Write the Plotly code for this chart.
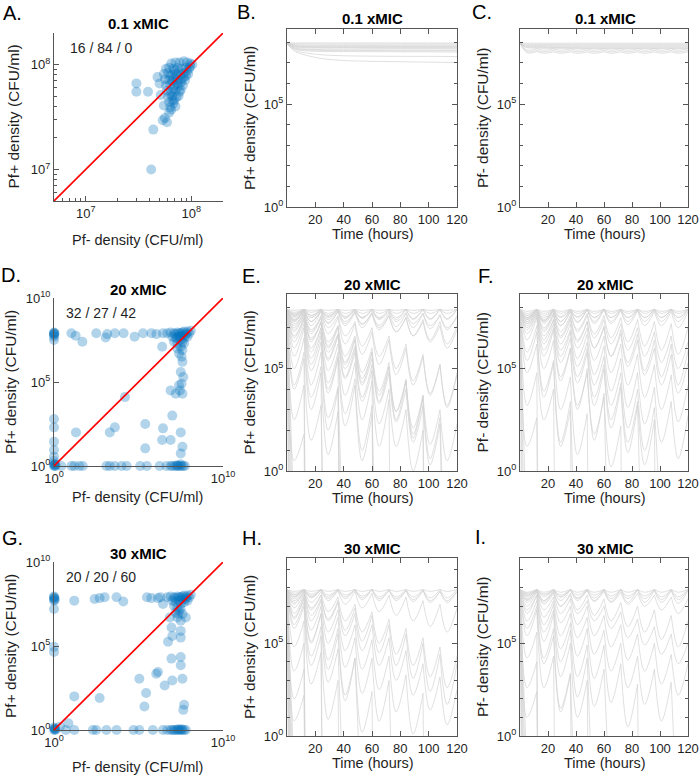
import plotly.graph_objects as go

FIG_W, FIG_H = 700, 778
FONT = "Liberation Sans, Arial, Helvetica, sans-serif"

# ------------------------------------------------------------------ data
DOSE_TIMES = [0, 12, 24, 36, 48, 60, 72, 84, 96, 108, 120]
TROUGH_OFFSET = 5
TIME_TICKS = [20, 40, 60, 80, 100, 120]

TITLES = {"A": "0.1 xMIC", "B": "0.1 xMIC", "C": "0.1 xMIC",
          "D": "20 xMIC", "E": "20 xMIC", "F": "20 xMIC",
          "G": "30 xMIC", "H": "30 xMIC", "I": "30 xMIC"}
COUNTS = {"A": "16 / 84 / 0", "D": "32 / 27 / 42", "G": "20 / 20 / 60"}

# scatter panels: (log10 Pf- density, log10 Pf+ density)
A_POINTS = [
    (7.48, 7.82), (7.48, 7.74), (7.59, 7.74), (7.62, 7.00), (7.64, 7.38), (7.75, 7.49),
    (7.68, 7.88), (7.70, 7.82), (7.73, 7.47), (7.77, 7.45), (7.81, 7.57), (7.82, 7.66),
    (7.71, 7.71), (7.74, 7.61), (7.79, 7.54),
    (7.81, 8.01), (7.85, 8.02), (7.89, 8.02), (7.93, 8.03), (7.96, 8.02), (7.99, 8.01), (8.01, 8.00),
    (7.76, 7.96), (7.79, 7.97), (7.83, 7.96), (7.87, 7.97), (7.91, 7.96), (7.95, 7.97), (7.98, 7.96),
    (7.74, 7.91), (7.78, 7.92), (7.82, 7.90), (7.86, 7.91), (7.90, 7.90), (7.93, 7.92), (7.97, 7.91),
    (7.75, 7.86), (7.79, 7.85), (7.83, 7.86), (7.87, 7.85), (7.91, 7.86), (7.94, 7.85),
    (7.76, 7.80), (7.80, 7.81), (7.84, 7.80), (7.88, 7.79), (7.92, 7.80),
    (7.77, 7.75), (7.81, 7.74), (7.85, 7.75), (7.89, 7.74),
    (7.78, 7.69), (7.82, 7.70), (7.86, 7.69), (7.79, 7.64), (7.83, 7.63), (7.80, 7.59), (7.85, 7.60),
    (7.84, 7.66), (7.88, 7.70), (7.90, 7.76), (7.95, 7.89), (7.99, 7.98), (7.87, 7.82), (7.83, 7.77),
    (7.80, 7.72), (7.86, 7.88), (7.90, 7.83), (7.82, 7.84), (7.93, 7.88), (7.96, 7.94), (7.88, 7.93),
    (7.84, 7.94), (7.80, 7.89),
]

D_POINTS = [
    (0, 0), (0.05, 0.02), (0.02, 0.08), (0.1, 0), (0, 0.12), (0.08, 0.1),
    (0, 7.9), (0, 7.95), (0, 7.8), (0, 7.85), (0, 7.7), (0, 7.5), (0.03, 7.9),
    (0, 2.8), (0, 2.3), (0, 1.45), (0, 0.95), (0, 0.55), (0, 0.3),
    (1.03, 7.9), (1.28, 7.75), (1.68, 7.4), (2.5, 7.9), (3.06, 7.65), (3.15, 7.85), (3.6, 7.9),
    (4.12, 7.9), (4.77, 7.7), (5.27, 7.9), (5.76, 7.9), (6.06, 7.85), (6.45, 7.9), (6.4, 7.1),
    (6.7, 7.9), (6.9, 7.95), (7.1, 7.9), (7.3, 7.95), (7.5, 7.9), (7.7, 8.0), (7.9, 8.0), (8.1, 8.05),
    (7.0, 7.7), (7.2, 7.6), (7.4, 7.7), (7.6, 7.75), (7.8, 7.8), (7.1, 7.4), (7.3, 7.3), (7.5, 7.5),
    (7.7, 7.6), (7.3, 7.0), (7.5, 7.1), (7.4, 6.7), (7.6, 6.9), (7.55, 6.5),
    (7.2, 7.85), (7.4, 7.9), (7.6, 7.95), (7.8, 7.9), (7.9, 7.7), (8.0, 7.9), (7.7, 7.3),
    (7.5, 7.7), (7.3, 7.6), (7.6, 7.4),
    (7.6, 6.2), (7.5, 5.6), (7.65, 5.3), (7.55, 4.9), (7.45, 4.5), (7.6, 4.3),
    (6.9, 4.5), (7.2, 4.3), (7.4, 4.8), (7.0, 3.0), (6.45, 2.24), (6.4, 1.55), (6.9, 1.55),
    (7.5, 2.0), (7.6, 1.15), (7.5, 0.75), (3.6, 2.3), (3.3, 2.0), (5.4, 2.5), (5.4, 1.05),
    (1.3, 2.0), (4.2, 4.1),
    (0.43, 0), (1.03, 0), (1.2, 0), (1.5, 0), (1.7, 0), (3.1, 0), (3.3, 0), (3.6, 0), (4.0, 0),
    (4.3, 0), (5.1, 0), (5.5, 0), (6.25, 0), (6.65, 0), (6.9, 0), (7.0, 0), (7.15, 0), (7.25, 0),
    (7.35, 0), (7.45, 0), (7.55, 0), (7.65, 0), (7.75, 0), (7.3, 0.05), (7.5, 0.1),
]

G_POINTS = [
    (0, 0), (0.05, 0.03), (0.03, 0.1), (0.1, 0.02), (0, 0.15), (0.06, 0.06),
    (0, 7.9), (0, 7.8), (0, 7.7), (0.03, 7.85), (0, 7.95), (0, 7.2), (0, 4.95), (0, 4.65), (0.05, 7.75),
    (1.2, 7.7), (2.4, 7.8), (2.7, 7.85), (3.0, 7.9), (3.7, 7.9), (4.1, 7.65), (5.76, 7.85),
    (6.15, 7.85), (6.45, 7.5), (6.3, 7.9), (5.5, 7.9),
    (6.7, 7.9), (6.9, 7.95), (7.1, 7.9), (7.3, 7.95), (7.5, 7.9), (7.7, 8.0), (7.9, 8.0), (8.1, 8.05),
    (7.0, 7.7), (7.2, 7.6), (7.4, 7.7), (7.6, 7.75), (7.8, 7.8), (7.1, 7.4), (7.3, 7.3), (7.5, 7.5),
    (7.7, 7.6), (7.2, 7.0), (7.4, 7.1), (7.3, 6.7), (7.6, 6.9), (7.5, 6.5), (7.2, 7.85), (7.4, 7.9),
    (7.6, 7.95), (7.8, 7.9), (7.9, 7.7), (8.0, 7.9), (7.5, 7.2), (7.35, 6.9),
    (6.85, 6.7), (6.95, 6.1), (7.5, 5.9), (7.0, 5.6), (7.5, 5.5), (6.75, 5.25), (7.8, 6.7),
    (6.95, 4.25), (7.5, 4.35), (7.5, 3.85), (6.15, 3.45), (6.05, 3.35), (6.55, 2.65), (7.0, 2.95),
    (7.6, 3.05), (5.05, 3.05), (5.45, 2.2), (5.35, 1.4), (2.7, 1.9), (1.2, 2.0), (7.65, 1.2),
    (7.7, 1.5), (0.85, 0.4), (0.35, 0.2),
    (0.7, 0), (1.2, 0), (2.3, 0), (2.5, 0), (3.1, 0), (3.7, 0), (4.7, 0), (5.05, 0), (5.85, 0),
    (6.45, 0), (6.7, 0), (6.9, 0), (7.0, 0), (7.1, 0), (7.2, 0), (7.3, 0), (7.4, 0), (7.5, 0),
    (7.6, 0), (7.7, 0), (7.8, 0), (7.35, 0.05), (7.55, 0.05),
]

# B: smooth trajectories (log10 density at knot times)
B_KNOT_T = [0, 6, 12, 24, 40, 60, 80, 100, 120]
B_LINES = [
    [7.97, 7.97, 7.97, 7.97, 7.97, 7.97, 7.97, 7.97, 7.97],
    [7.95, 7.93, 7.93, 7.92, 7.92, 7.92, 7.92, 7.92, 7.92],
    [7.95, 7.88, 7.87, 7.86, 7.86, 7.86, 7.86, 7.86, 7.86],
    [7.95, 7.85, 7.83, 7.82, 7.82, 7.82, 7.81, 7.81, 7.81],
    [7.95, 7.82, 7.80, 7.79, 7.79, 7.79, 7.78, 7.78, 7.78],
    [7.95, 7.79, 7.76, 7.75, 7.75, 7.75, 7.74, 7.74, 7.74],
    [7.94, 7.76, 7.73, 7.72, 7.72, 7.71, 7.71, 7.71, 7.71],
    [7.94, 7.72, 7.67, 7.65, 7.64, 7.64, 7.63, 7.63, 7.63],
    [7.94, 7.70, 7.64, 7.61, 7.60, 7.60, 7.59, 7.59, 7.59],
    [7.93, 7.66, 7.60, 7.56, 7.55, 7.55, 7.54, 7.54, 7.53],
    [7.93, 7.60, 7.50, 7.40, 7.35, 7.33, 7.32, 7.32, 7.31],
    [7.92, 7.55, 7.40, 7.22, 7.12, 7.08, 7.06, 7.04, 7.02],
]

# C: flat band + periodic (peak, trough, peak, ...) lines
C_KNOT_T = [0, 4, 12, 30, 60, 90, 120]
C_FLAT_LINES = [
    [7.96, 7.96, 7.96, 7.96, 7.96, 7.96, 7.96],
    [7.95, 7.91, 7.90, 7.90, 7.90, 7.90, 7.90],
    [7.95, 7.86, 7.85, 7.84, 7.84, 7.84, 7.84],
    [7.95, 7.82, 7.80, 7.79, 7.79, 7.79, 7.79],
    [7.95, 7.79, 7.76, 7.75, 7.74, 7.74, 7.74],
    [7.95, 7.76, 7.72, 7.71, 7.70, 7.70, 7.70],
]
C_WAVY_LINES = [
    [7.95, 7.63, 7.69, 7.62, 7.69, 7.62, 7.69, 7.62, 7.69, 7.62, 7.69, 7.62, 7.69, 7.62, 7.69, 7.62, 7.69, 7.62, 7.69, 7.62, 7.69],
    [7.95, 7.56, 7.61, 7.54, 7.61, 7.54, 7.61, 7.54, 7.61, 7.54, 7.61, 7.54, 7.61, 7.54, 7.61, 7.54, 7.61, 7.54, 7.61, 7.54, 7.61],
    [7.94, 7.50, 7.55, 7.47, 7.54, 7.47, 7.54, 7.47, 7.54, 7.47, 7.54, 7.47, 7.54, 7.47, 7.54, 7.47, 7.54, 7.47, 7.54, 7.47, 7.54],
]

# E, F, H, I: log10 density at dose peaks and troughs: p0, t0, p1, t1, ...
# (a list ending on a trough means the population went extinct)
E_LINES = [
    [7.9, -40], [7.9, -25], [7.9, -15], [7.9, -9], [7.9, -5], [7.9, -2.5],
    [7.9, 0.5, 1.8, -40],
    [7.9, 2.5, 4.2, -40],
    [7.9, 4.2, 5.8, -40],
    [7.9, 5.6, 7.0, 3.6, 5.1, -40],
    [7.9, 4.0, 5.5, 1.5, 3.2, -12],
    [7.9, 6.3, 7.4, 4.9, 6.3, 2.6, 4.1, -40],
    [7.9, 5.0, 6.5, 3.0, 4.8, 0.8, 2.9, -12],
    [7.9, 6.6, 7.5, 5.5, 6.8, 4.0, 5.6, -40],
    [7.9, 6.0, 7.2, 4.2, 5.8, 2.0, 4.0, -6],
    [7.9, 6.8, 7.7, 5.8, 7.0, 4.3, 5.8, 2.8, 4.5, 1.0, 3.2, -40],
    [7.9, 6.5, 7.5, 5.2, 6.6, 3.8, 5.5, 2.2, 4.2, 0.5, 2.8, -10],
    [7.9, 7.1, 7.8, 6.4, 7.3, 5.5, 6.7, 4.6, 6.0, 3.6, 5.2, -40],
    [7.9, 6.9, 7.6, 6.0, 7.0, 4.9, 6.2, 3.7, 5.3, 2.5, 4.4, 1.2, 3.5, -40],
    [7.9, 7.0, 7.8, 6.3, 7.3, 5.4, 6.6, 4.5, 5.8, 3.4, 4.9, 2.3, 4.0, 1.2, 3.0, 0.0, 2.0, -40],
    [7.9, 7.3, 7.85, 6.7, 7.5, 6.0, 7.0, 5.2, 6.4, 4.3, 5.8, 3.4, 5.1, 2.5, 4.4, 1.6, 3.7, -40],
    [7.9, 7.2, 7.7, 6.5, 7.2, 5.8, 6.7, 5.0, 6.1, 4.2, 5.5, 3.3, 4.8, 2.4, 4.0, 1.4, 3.2, 0.3, 2.3, -15],
    [7.9, 7.4, 7.8, 6.9, 7.5, 6.3, 7.1, 5.6, 6.6, 4.8, 6.0, 3.9, 5.3, 2.9, 4.5, 1.8, 3.6, 0.6, 2.6, -8],
    [7.9, 7.3, 7.9, 6.8, 7.6, 6.1, 7.1, 5.3, 6.5, 4.5, 5.8, 3.7, 5.1, 2.9, 4.4, 2.1, 3.7, 1.3, 3.0, 0.5, 2.3],
    [7.9, 7.6, 7.9, 7.3, 7.8, 7.0, 7.6, 6.6, 7.3, 6.1, 7.0, 5.6, 6.6, 5.0, 6.2, 4.4, 5.7, 3.8, 5.2, 3.1, 4.7],
    [7.9, 7.5, 7.9, 7.1, 7.8, 6.7, 7.5, 6.2, 7.2, 5.7, 6.8, 5.2, 6.4, 4.7, 6.0, 4.2, 5.6, 3.7, 5.2, 3.2, 4.8],
    [7.9, 7.6, 7.9, 7.5, 7.9, 7.4, 7.85, 7.3, 7.8, 7.2, 7.7, 7.0, 7.6, 6.8, 7.5, 6.6, 7.3, 6.3, 7.1, 6.0, 6.9],
    [7.9, 7.7, 7.9, 7.6, 7.9, 7.6, 7.9, 7.5, 7.9, 7.5, 7.85, 7.4, 7.8, 7.3, 7.75, 7.2, 7.7, 7.1, 7.6, 7.0, 7.5],
    [7.9, 7.75, 7.9, 7.75, 7.9, 7.7, 7.9, 7.7, 7.9, 7.7, 7.9, 7.7, 7.9, 7.7, 7.9, 7.7, 7.9, 7.7, 7.9, 7.7, 7.9],
    [7.9, 7.55, 7.9, 7.5, 7.9, 7.5, 7.9, 7.45, 7.9, 7.45, 7.9, 7.45, 7.9, 7.4, 7.9, 7.4, 7.9, 7.4, 7.9, 7.4, 7.9],
    [7.9, 7.85, 7.9, 7.85, 7.9, 7.85, 7.9, 7.85, 7.9, 7.85, 7.9, 7.85, 7.9, 7.85, 7.9, 7.85, 7.9, 7.85, 7.9, 7.85, 7.9],
    [7.9, 7.4, 7.9, 7.3, 7.85, 7.2, 7.8, 7.1, 7.75, 7.0, 7.7, 6.9, 7.6, 6.8, 7.5, 6.6, 7.4, 6.4, 7.3, 6.2, 7.1],
    [7.9, 7.65, 7.9, 7.6, 7.9, 7.55, 7.9, 7.55, 7.9, 7.5, 7.9, 7.5, 7.9, 7.5, 7.9, 7.45, 7.9, 7.45, 7.9, 7.45, 7.9],
    [7.9, 7.35, 7.85, 7.3, 7.85, 7.25, 7.8, 7.2, 7.8, 7.15, 7.75, 7.1, 7.75, 7.05, 7.7, 7.0, 7.7, 6.95, 7.65, 6.9, 7.6],
]

F_LINES = [
    [7.9, -40], [7.9, -20], [7.9, -10], [7.9, -4],
    [7.9, 1.2, 2.6, -40],
    [7.9, 3.2, 4.8, -40],
    [7.9, 4.8, 6.2, 2.5, 4.0, -40],
    [7.9, 5.8, 7.1, 3.9, 5.4, 1.2, 3.0, -40],
    [7.9, 6.4, 7.5, 5.0, 6.4, 3.0, 4.6, 0.8, 2.8, -40],
    [7.9, 6.9, 7.7, 5.9, 7.0, 4.6, 6.0, 3.2, 4.8, 1.8, 3.6, 0.2, 2.2, -40],
    [7.9, 5.4, 6.8, 3.6, 5.3, 1.4, 3.4, -8],
    [7.9, 7.1, 7.8, 6.4, 7.4, 5.6, 6.8, 4.6, 6.0, 3.6, 5.2, 2.5, 4.3, 1.4, 3.4, 0.3, 2.5, -40],
    [7.9, 7.3, 7.9, 6.8, 7.6, 6.2, 7.2, 5.5, 6.7, 4.7, 6.1, 3.9, 5.5, 3.1, 4.8, 2.3, 4.1, 1.4, 3.4, 0.6, 2.7],
    [7.9, 7.4, 7.9, 7.0, 7.7, 6.5, 7.4, 6.0, 7.0, 5.4, 6.6, 4.8, 6.2, 4.2, 5.7, 3.6, 5.2, 3.0, 4.7, 2.4, 4.2],
    [7.9, 7.5, 7.9, 7.2, 7.8, 6.8, 7.6, 6.4, 7.3, 6.0, 7.0, 5.6, 6.7, 5.1, 6.4, 4.7, 6.0, 4.2, 5.7, 3.8, 5.3],
    [7.9, 7.6, 7.9, 7.4, 7.9, 7.1, 7.8, 6.8, 7.6, 6.5, 7.4, 6.2, 7.2, 5.9, 7.0, 5.6, 6.8, 5.3, 6.6, 5.0, 6.3],
    [7.9, 7.0, 7.7, 6.2, 7.2, 5.3, 6.5, 4.3, 5.8, 3.2, 5.0, 2.1, 4.1, 0.9, 3.2, -10],
    [7.9, 6.7, 7.6, 5.6, 6.9, 4.4, 6.0, 3.0, 5.0, 1.5, 3.8, -10],
    [7.9, 7.2, 7.8, 6.6, 7.4, 5.9, 6.9, 5.1, 6.3, 4.2, 5.6, 3.2, 4.8, 2.1, 4.0, 1.0, 3.1, -3],
    [7.9, 7.45, 7.9, 7.3, 7.85, 7.1, 7.8, 6.9, 7.7, 6.7, 7.6, 6.5, 7.5, 6.3, 7.4, 6.1, 7.3, 5.9, 7.2, 5.7, 7.0],
    [7.9, 7.3, 7.9, 7.3, 7.9, 7.3, 7.9, 7.3, 7.9, 7.3, 7.9, 7.3, 7.9, 7.3, 7.9, 7.3, 7.9, 7.3, 7.9, 7.3, 7.9],
    [7.9, 7.5, 7.9, 7.5, 7.9, 7.5, 7.9, 7.5, 7.9, 7.5, 7.9, 7.5, 7.9, 7.5, 7.9, 7.5, 7.9, 7.5, 7.9, 7.5, 7.9],
    [7.9, 7.7, 7.9, 7.7, 7.9, 7.7, 7.9, 7.7, 7.9, 7.7, 7.9, 7.7, 7.9, 7.7, 7.9, 7.7, 7.9, 7.7, 7.9, 7.7, 7.9],
    [7.9, 7.4, 7.9, 7.35, 7.9, 7.3, 7.9, 7.25, 7.9, 7.2, 7.9, 7.2, 7.85, 7.15, 7.85, 7.1, 7.8, 7.1, 7.8, 7.0, 7.8],
    [7.9, 7.6, 7.9, 7.6, 7.9, 7.55, 7.9, 7.55, 7.9, 7.5, 7.9, 7.5, 7.9, 7.5, 7.9, 7.5, 7.9, 7.5, 7.9, 7.5, 7.9],
    [7.9, 7.2, 7.8, 6.9, 7.7, 6.6, 7.5, 6.3, 7.3, 6.0, 7.1, 5.6, 6.9, 5.3, 6.7, 4.9, 6.4, 4.6, 6.2, 4.2, 5.9],
    [7.9, 7.8, 7.9, 7.8, 7.9, 7.8, 7.9, 7.8, 7.9, 7.8, 7.9, 7.8, 7.9, 7.8, 7.9, 7.8, 7.9, 7.8, 7.9, 7.8, 7.9],
]

H_LINES = [
    [7.9, -40], [7.9, -30], [7.9, -20], [7.9, -14], [7.9, -10], [7.9, -7], [7.9, -4], [7.9, -2],
    [7.9, 0.8, 2.2, -40],
    [7.9, 2.0, 3.6, -40],
    [7.9, 3.5, 5.0, -40],
    [7.9, 4.8, 6.2, -40],
    [7.9, 5.8, 7.0, 2.8, 4.5, -40],
    [7.9, 6.3, 7.4, 4.3, 5.9, -40],
    [7.9, 6.0, 7.2, 3.8, 5.4, 0.9, 3.0, -40],
    [7.9, 6.6, 7.6, 5.0, 6.6, 2.9, 4.7, -6],
    [7.9, 6.9, 7.7, 5.7, 7.0, 4.1, 5.8, 2.2, 4.2, 0.2, 2.4, -40],
    [7.9, 7.1, 7.8, 6.2, 7.3, 5.0, 6.4, 3.7, 5.3, 2.3, 4.2, 0.8, 3.0, -10],
    [7.9, 7.2, 7.8, 6.5, 7.4, 5.6, 6.8, 4.6, 6.0, 3.6, 5.2, 2.5, 4.3, 1.3, 3.3, 0.1, 2.3, -40],
    [7.9, 7.4, 7.9, 6.9, 7.6, 6.2, 7.2, 5.4, 6.6, 4.6, 6.0, 3.8, 5.3, 3.0, 4.6, 2.2, 3.9, 1.4, 3.2, 0.6, 2.5],
    [7.9, 7.5, 7.9, 7.2, 7.8, 6.7, 7.5, 6.2, 7.1, 5.6, 6.7, 5.0, 6.3, 4.4, 5.8, 3.8, 5.3, 3.2, 4.8, 2.6, 4.3],
    [7.9, 6.4, 7.5, 5.1, 6.6, 3.6, 5.5, 1.9, 4.2, -5],
    [7.9, 7.6, 7.9, 7.5, 7.9, 7.3, 7.85, 7.1, 7.8, 6.9, 7.7, 6.7, 7.6, 6.5, 7.5, 6.2, 7.3, 5.9, 7.1, 5.6, 6.9],
    [7.9, 7.7, 7.9, 7.65, 7.9, 7.6, 7.9, 7.6, 7.9, 7.55, 7.9, 7.5, 7.9, 7.5, 7.9, 7.5, 7.9, 7.45, 7.9, 7.45, 7.9],
    [7.9, 7.5, 7.9, 7.45, 7.9, 7.4, 7.9, 7.4, 7.9, 7.35, 7.9, 7.3, 7.9, 7.3, 7.85, 7.25, 7.85, 7.2, 7.8, 7.2, 7.8],
    [7.9, 7.8, 7.9, 7.8, 7.9, 7.8, 7.9, 7.8, 7.9, 7.8, 7.9, 7.8, 7.9, 7.8, 7.9, 7.8, 7.9, 7.8, 7.9, 7.8, 7.9],
    [7.9, 7.3, 7.8, 6.8, 7.6, 6.3, 7.3, 5.7, 6.9, 5.1, 6.5, 4.5, 6.0, 3.8, 5.5, 3.1, 5.0, 2.4, 4.4, 1.7, 3.9],
    [7.9, 7.6, 7.9, 7.55, 7.9, 7.5, 7.9, 7.5, 7.9, 7.45, 7.9, 7.4, 7.85, 7.4, 7.85, 7.35, 7.85, 7.3, 7.8, 7.3, 7.8],
]

I_LINES = [
    [7.9, -40], [7.9, -25], [7.9, -15], [7.9, -9], [7.9, -5], [7.9, -2],
    [7.9, 1.0, 2.4, -40],
    [7.9, 2.6, 4.0, -40],
    [7.9, 4.2, 5.6, -40],
    [7.9, 5.4, 6.8, 2.6, 4.3, -40],
    [7.9, 6.2, 7.3, 4.2, 5.8, 1.5, 3.4, -40],
    [7.9, 6.6, 7.6, 5.1, 6.6, 3.2, 5.0, 1.0, 3.0, -40],
    [7.9, 7.0, 7.8, 6.0, 7.1, 4.7, 6.1, 3.2, 4.9, 1.6, 3.6, -5],
    [7.9, 7.2, 7.8, 6.4, 7.3, 5.4, 6.6, 4.3, 5.8, 3.1, 4.9, 1.8, 3.9, 0.5, 2.8, -40],
    [7.9, 7.3, 7.9, 6.8, 7.5, 6.1, 7.0, 5.3, 6.4, 4.4, 5.7, 3.5, 5.0, 2.6, 4.3, 1.7, 3.6, 0.8, 2.9, -6],
    [7.9, 7.5, 7.9, 7.1, 7.7, 6.6, 7.4, 6.0, 7.0, 5.4, 6.5, 4.8, 6.0, 4.1, 5.5, 3.5, 5.0, 2.8, 4.4, 2.2, 3.9],
    [7.9, 7.6, 7.9, 7.3, 7.8, 7.0, 7.6, 6.6, 7.3, 6.2, 7.0, 5.8, 6.7, 5.3, 6.3, 4.9, 5.9, 4.4, 5.5, 3.9, 5.0],
    [7.9, 5.8, 7.0, 3.9, 5.4, 1.3, 3.3, -8],
    [7.9, 6.8, 7.6, 5.6, 6.8, 4.0, 5.7, 2.1, 4.2, -6],
    [7.9, 7.7, 7.9, 7.6, 7.9, 7.5, 7.9, 7.4, 7.85, 7.3, 7.8, 7.2, 7.75, 7.1, 7.7, 7.0, 7.6, 6.8, 7.5, 6.6, 7.4],
    [7.9, 7.75, 7.9, 7.75, 7.9, 7.75, 7.9, 7.75, 7.9, 7.75, 7.9, 7.75, 7.9, 7.75, 7.9, 7.75, 7.9, 7.75, 7.9, 7.75, 7.9],
    [7.9, 7.55, 7.9, 7.5, 7.9, 7.5, 7.9, 7.45, 7.9, 7.45, 7.9, 7.4, 7.9, 7.4, 7.9, 7.4, 7.9, 7.35, 7.9, 7.35, 7.9],
    [7.9, 7.4, 7.85, 7.2, 7.8, 7.0, 7.7, 6.8, 7.6, 6.5, 7.4, 6.2, 7.2, 5.9, 7.0, 5.6, 6.8, 5.2, 6.5, 4.8, 6.2],
    [7.9, 7.35, 7.9, 7.3, 7.9, 7.3, 7.9, 7.3, 7.9, 7.25, 7.9, 7.25, 7.9, 7.2, 7.9, 7.2, 7.85, 7.2, 7.85, 7.15, 7.85],
    [7.9, 7.65, 7.9, 7.65, 7.9, 7.6, 7.9, 7.6, 7.9, 7.6, 7.9, 7.55, 7.9, 7.55, 7.9, 7.55, 7.9, 7.5, 7.9, 7.5, 7.9],
]

# ------------------------------------------------------------------ styling
SCATTER_BLUE = "#0072BD"
LINE_GREY = "#d2d2d2"
AXIS_COL = "#555555"
TEXT_COL = "#1f1f1f"

# panel boxes in pixels: x0, x1, y0(top), y1(bottom)
BOXES = {
    "A": (54, 223, 33, 201), "B": (287, 457, 29, 207), "C": (520, 688, 29, 207),
    "D": (54, 223, 298, 466), "E": (287, 457, 294, 471), "F": (520, 688, 294, 471),
    "G": (54, 223, 562, 730), "H": (287, 457, 558, 736), "I": (520, 688, 558, 736),
}
ORDER = ["A", "B", "C", "D", "E", "F", "G", "H", "I"]
XTITLE_GAP = {"A": 39, "D": 31, "G": 37}


def xd(p):
    return p / FIG_W


def yd(p):
    return 1 - p / FIG_H


def refs(i):
    s = "" if i == 1 else str(i)
    return "xaxis" + s, "yaxis" + s, "x" + s, "y" + s


def sup(v):
    return "10<sup>%d</sup>" % v


def scallop_xy(seq):
    xs, ys = [], []
    n_peaks = (len(seq) + 1) // 2
    for k in range(n_peaks):
        i = 2 * k
        if i + 1 >= len(seq):
            break
        t0 = DOSE_TIMES[k]
        if i + 2 < len(seq):
            xs += [t0, t0 + TROUGH_OFFSET, DOSE_TIMES[k + 1], None]
            ys += [10 ** seq[i], 10 ** seq[i + 1], 10 ** seq[i + 2], None]
        else:
            xs += [t0, t0 + TROUGH_OFFSET, None]
            ys += [10 ** seq[i], 10 ** seq[i + 1], None]
    return xs, ys


def knot_xy(times, vals):
    return list(times) + [None], [10 ** v for v in vals] + [None]


common = dict(showgrid=False, zeroline=False, showline=True, linecolor=AXIS_COL, linewidth=1,
              ticks="inside", tickcolor=AXIS_COL, ticklen=5, tickwidth=1, automargin=False,
              ticklabeloverflow="allow",
              tickfont=dict(size=13, color=TEXT_COL, family=FONT))

fig = go.Figure()
layout = {}
annotations = []

SCATTER_SETUP = {
    "A": dict(pts=A_POINTS, rng=[6.7, 8.3], xt=[7, 8], yt=[7, 8],
              minor=[6e6, 7e6, 8e6, 9e6, 2e7, 3e7, 4e7, 5e7, 6e7, 7e7, 8e7, 9e7, 2e8]),
    "D": dict(pts=D_POINTS, rng=[0, 10], xt=[0, 10], yt=[0, 5, 10], minor=None),
    "G": dict(pts=G_POINTS, rng=[0, 10], xt=[0, 10], yt=[0, 5, 10], minor=None),
}
LINE_SETUP = {
    "B": dict(ymax=8.65, ylab="Pf+ density (CFU/ml)"),
    "C": dict(ymax=8.65, ylab="Pf- density (CFU/ml)"),
    "E": dict(ymax=8.65, ylab="Pf+ density (CFU/ml)", lines=E_LINES),
    "F": dict(ymax=8.65, ylab="Pf- density (CFU/ml)", lines=F_LINES),
    "H": dict(ymax=9.6, ylab="Pf+ density (CFU/ml)", lines=H_LINES),
    "I": dict(ymax=9.6, ylab="Pf- density (CFU/ml)", lines=I_LINES),
}

for idx, key in enumerate(ORDER, start=1):
    xa_name, ya_name, xr, yr = refs(idx)
    x0, x1, y0, y1 = BOXES[key]
    xdom = [xd(x0), xd(x1)]
    ydom = [yd(y1), yd(y0)]
    if key in SCATTER_SETUP:
        s = SCATTER_SETUP[key]
        lo, hi = s["rng"]
        xa = dict(domain=xdom, anchor=yr, type="log", range=[lo, hi], tickmode="array",
                  tickvals=[10 ** v for v in s["xt"]], ticktext=[sup(v) for v in s["xt"]], **common)
        ya = dict(domain=ydom, anchor=xr, type="log", range=[lo, hi], tickmode="array",
                  tickvals=[10 ** v for v in s["yt"]], ticktext=[sup(v) for v in s["yt"]], **common)
        if s["minor"]:
            mn = dict(tickmode="array", tickvals=s["minor"], ticks="inside", ticklen=3, tickcolor=AXIS_COL)
            xa["minor"] = mn
            ya["minor"] = mn
        layout[xa_name] = xa
        layout[ya_name] = ya
        pts = s["pts"]
        fig.add_trace(go.Scatter(
            x=[10 ** p[0] for p in pts], y=[10 ** p[1] for p in pts], mode="markers",
            marker=dict(color=SCATTER_BLUE, opacity=0.3, size=10, line=dict(width=0)),
            cliponaxis=False, xaxis=xr, yaxis=yr, hoverinfo="skip"))
        fig.add_trace(go.Scatter(
            x=[10 ** lo, 10 ** hi], y=[10 ** lo, 10 ** hi], mode="lines",
            line=dict(color="#ff0000", width=1.6), xaxis=xr, yaxis=yr, hoverinfo="skip"))
        ytx = 13.5 if key == "A" else 10
        annotations.append(dict(text="Pf+ density (CFU/ml)", x=xd(ytx), y=yd((y0 + y1) / 2),
                                textangle=-90, font=dict(size=15.5, color=TEXT_COL, family=FONT)))
        annotations.append(dict(text="Pf- density (CFU/ml)", x=xd((x0 + x1) / 2 - 1),
                                y=yd(y1 + XTITLE_GAP[key]),
                                font=dict(size=14.5, color=TEXT_COL, family=FONT)))
        annotations.append(dict(text=COUNTS[key], x=xd(x0 + 47), y=yd(y0 + 15),
                                font=dict(size=14, color=TEXT_COL, family=FONT)))
        annotations.append(dict(text="<b>%s</b>" % TITLES[key], x=xd((x0 + x1) / 2), y=yd(y0 - 9),
                                font=dict(size=15, color="#000", family=FONT)))
    else:
        s = LINE_SETUP[key]
        xa = dict(domain=xdom, anchor=yr, type="linear", range=[0, 120], tickmode="array",
                  tickvals=TIME_TICKS, ticktext=[str(t) for t in TIME_TICKS], mirror="ticks", **common)
        ya = dict(domain=ydom, anchor=xr, type="log", range=[0, s["ymax"]], tickmode="array",
                  tickvals=[1, 1e5], ticktext=[sup(0), sup(5)], mirror="ticks",
                  minor=dict(tickmode="array", tickvals=[1e1, 1e2, 1e3, 1e4, 1e6, 1e7, 1e8, 1e9],
                             ticks="inside", ticklen=3, tickcolor=AXIS_COL), **common)
        layout[xa_name] = xa
        layout[ya_name] = ya
        xs, ys = [], []
        if key == "B":
            for ln in B_LINES:
                a, b = knot_xy(B_KNOT_T, ln)
                xs += a
                ys += b
        elif key == "C":
            for ln in C_FLAT_LINES:
                a, b = knot_xy(C_KNOT_T, ln)
                xs += a
                ys += b
            for ln in C_WAVY_LINES:
                a, b = scallop_xy(ln)
                xs += a
                ys += b
        else:
            for ln in s["lines"]:
                a, b = scallop_xy(ln)
                xs += a
                ys += b
        fig.add_trace(go.Scatter(
            x=xs, y=ys, mode="lines", line=dict(color=LINE_GREY, width=0.7, shape="spline", smoothing=1),
            connectgaps=False, xaxis=xr, yaxis=yr, hoverinfo="skip"))
        annotations.append(dict(text=s["ylab"], x=xd(x0 - 38), y=yd((y0 + y1) / 2),
                                textangle=-90, font=dict(size=15.5, color=TEXT_COL, family=FONT)))
        annotations.append(dict(text="Time (hours)", x=xd((x0 + x1) / 2 + 1), y=yd(y1 + 27),
                                font=dict(size=14.5, color=TEXT_COL, family=FONT)))
        annotations.append(dict(text="<b>%s</b>" % TITLES[key], x=xd((x0 + x1) / 2 + 1), y=yd(y0 - 10),
                                font=dict(size=15, color="#000", family=FONT)))

# panel letters
LETTER_POS = {"A": (12, 13), "B": (246, 12), "C": (482, 12),
              "D": (11, 275), "E": (251, 276), "F": (486, 276),
              "G": (12, 538), "H": (252, 538), "I": (480, 537)}
for key in ORDER:
    px, py = LETTER_POS[key]
    annotations.append(dict(text=key + ".", x=xd(px), y=yd(py),
                            font=dict(size=20, color="#000", family=FONT)))

for a in annotations:
    a.update(xref="paper", yref="paper", xanchor="center", yanchor="middle", showarrow=False)

fig.update_layout(width=FIG_W, height=FIG_H, margin=dict(l=0, r=0, t=0, b=0, pad=0, autoexpand=False),
                  paper_bgcolor="white", plot_bgcolor="white", showlegend=False,
                  font=dict(family=FONT, color=TEXT_COL), annotations=annotations,
                  hovermode=False, **layout)

# the default page body has an 8 px margin; remove it so the figure fills the window
fig.write_html("out.html", config={"displayModeBar": False, "staticPlot": True},
               post_script="document.body.style.margin='0px';")
